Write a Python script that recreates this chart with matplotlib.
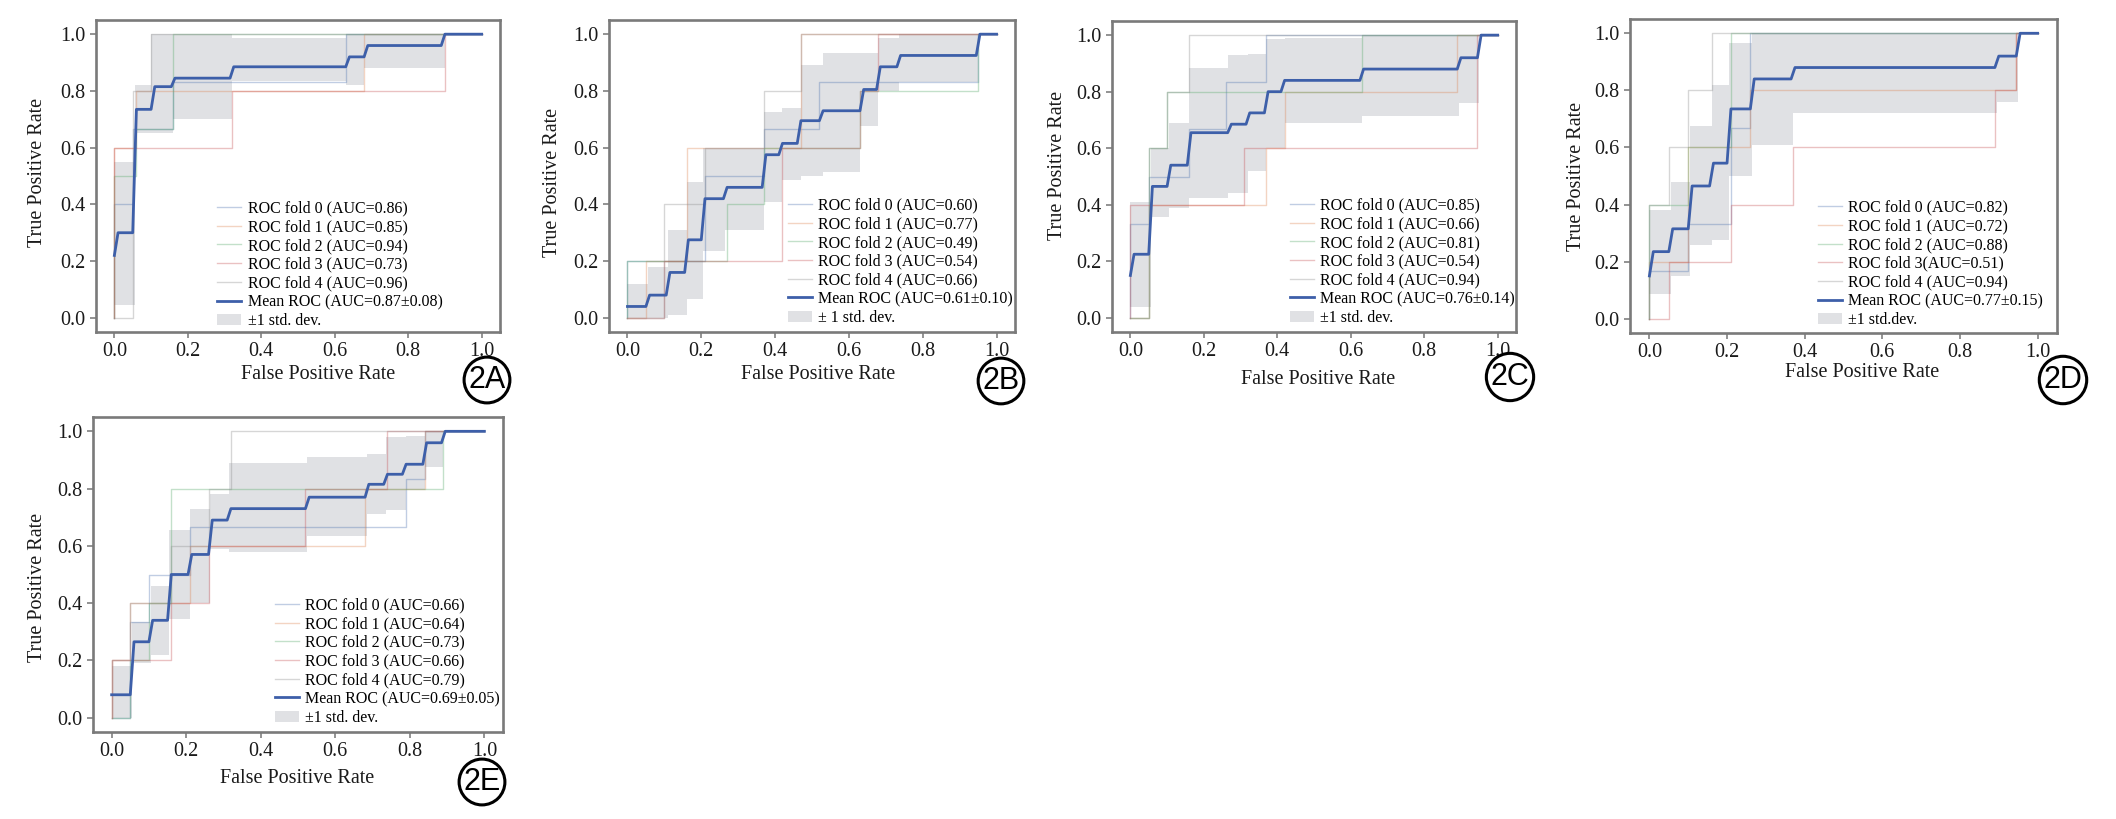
import numpy as np
import matplotlib.pyplot as plt
from matplotlib.patches import Patch

plt.rcParams['font.family'] = ['Liberation Serif', 'DejaVu Serif']

# ---------------- panel 2A ----------------
fpr_a = [[0, 0, 0.05, 0.05, 0.16, 0.16, 0.63, 0.63, 1],
         [0, 0, 0.06, 0.06, 0.68, 0.68, 1],
         [0, 0, 0.06, 0.06, 0.16, 0.16, 1],
         [0, 0, 0.32, 0.32, 0.9, 0.9, 1],
         [0, 0.05, 0.05, 0.1, 0.1, 1]]
tpr_a = [[0, 0.4, 0.4, 0.667, 0.667, 0.833, 0.833, 1, 1],
         [0, 0.6, 0.6, 0.8, 0.8, 1, 1],
         [0, 0.5, 0.5, 0.667, 0.667, 1, 1],
         [0, 0.6, 0.6, 0.8, 0.8, 1, 1],
         [0, 0, 0.8, 0.8, 1, 1]]
mean_x_a = [0, 0.01, 0.05, 0.06, 0.10, 0.11, 0.155, 0.165, 0.315, 0.325, 0.63, 0.64, 0.68, 0.69, 0.89, 0.90, 1.0]
mean_y_a = [0.22, 0.30, 0.30, 0.735, 0.735, 0.815, 0.815, 0.845, 0.845, 0.885, 0.885, 0.92, 0.92, 0.96, 0.96, 1.0, 1.0]
band_x_a = [0, 0.055, 0.10, 0.16, 0.32, 0.63, 0.68, 0.90, 1.0]
band_hi_a = [0.55, 0.82, 1.0, 1.0, 0.985, 1.0, 1.0, 1.0, 1.0]
band_lo_a = [0.045, 0.65, 0.65, 0.70, 0.835, 0.82, 0.88, 1.0, 1.0]
auc_a = ['0.86', '0.85', '0.94', '0.73', '0.96']
mean_lab_a = 'Mean ROC (AUC=0.87\u00b10.08)'
std_lab_a = '\u00b11 std. dev.'

# ---------------- panel 2B ----------------
fpr_b = [[0, 0, 0.21, 0.21, 0.37, 0.37, 0.52, 0.52, 0.95, 0.95, 1],
         [0, 0.05, 0.05, 0.16, 0.16, 0.47, 0.47, 1],
         [0, 0, 0.27, 0.27, 0.37, 0.37, 0.63, 0.63, 0.95, 0.95, 1],
         [0, 0.1, 0.1, 0.42, 0.42, 0.63, 0.63, 0.68, 0.68, 1],
         [0, 0.1, 0.1, 0.21, 0.21, 0.37, 0.37, 0.47, 0.47, 1]]
tpr_b = [[0, 0.2, 0.2, 0.5, 0.5, 0.667, 0.667, 0.833, 0.833, 1, 1],
         [0, 0, 0.2, 0.2, 0.6, 0.6, 1, 1],
         [0, 0.2, 0.2, 0.4, 0.4, 0.6, 0.6, 0.8, 0.8, 1, 1],
         [0, 0, 0.2, 0.2, 0.6, 0.6, 0.8, 0.8, 1, 1],
         [0, 0, 0.4, 0.4, 0.6, 0.6, 0.8, 0.8, 1, 1]]
mean_x_b = [0, 0.05, 0.06, 0.105, 0.115, 0.155, 0.165, 0.20, 0.21, 0.26, 0.27, 0.365, 0.375, 0.41,
            0.42, 0.46, 0.47, 0.52, 0.53, 0.63, 0.64, 0.675, 0.685, 0.73, 0.74, 0.945, 0.955, 1.0]
mean_y_b = [0.04, 0.04, 0.08, 0.08, 0.16, 0.16, 0.275, 0.275, 0.42, 0.42, 0.46, 0.46, 0.575, 0.575,
            0.615, 0.615, 0.695, 0.695, 0.73, 0.73, 0.805, 0.805, 0.885, 0.885, 0.925, 0.925, 1.0, 1.0]
band_x_b = [0, 0.055, 0.11, 0.16, 0.205, 0.265, 0.37, 0.42, 0.47, 0.53, 0.63, 0.68, 0.735, 0.95, 1.0]
band_hi_b = [0.12, 0.18, 0.31, 0.48, 0.60, 0.60, 0.725, 0.74, 0.89, 0.935, 0.935, 0.985, 1.0, 1.0, 1.0]
band_lo_b = [0.0, 0.0, 0.01, 0.065, 0.235, 0.31, 0.41, 0.485, 0.50, 0.515, 0.675, 0.80, 0.83, 1.0, 1.0]
auc_b = ['0.60', '0.77', '0.49', '0.54', '0.66']
mean_lab_b = 'Mean ROC (AUC=0.61\u00b10.10)'
std_lab_b = '\u00b1 1 std. dev.'

# ---------------- panel 2C ----------------
fpr_c = [[0, 0, 0.05, 0.05, 0.16, 0.16, 0.26, 0.26, 0.37, 0.37, 1],
         [0, 0.05, 0.05, 0.37, 0.37, 0.42, 0.42, 0.89, 0.89, 1],
         [0, 0.05, 0.05, 0.1, 0.1, 0.63, 0.63, 1],
         [0, 0, 0.31, 0.31, 0.945, 0.945, 1],
         [0, 0.05, 0.05, 0.1, 0.1, 0.16, 0.16, 1]]
tpr_c = [[0, 0.333, 0.333, 0.5, 0.5, 0.667, 0.667, 0.833, 0.833, 1, 1],
         [0, 0, 0.4, 0.4, 0.6, 0.6, 0.8, 0.8, 1, 1],
         [0, 0, 0.6, 0.6, 0.8, 0.8, 1, 1],
         [0, 0.4, 0.4, 0.6, 0.6, 1, 1],
         [0, 0, 0.6, 0.6, 0.8, 0.8, 1, 1]]
mean_x_c = [0, 0.01, 0.05, 0.06, 0.10, 0.11, 0.155, 0.165, 0.265, 0.275, 0.315, 0.325, 0.365, 0.375,
            0.41, 0.42, 0.625, 0.635, 0.89, 0.90, 0.945, 0.955, 1.0]
mean_y_c = [0.15, 0.225, 0.225, 0.465, 0.465, 0.54, 0.54, 0.655, 0.655, 0.685, 0.685, 0.725, 0.725, 0.80,
            0.80, 0.84, 0.84, 0.88, 0.88, 0.92, 0.92, 1.0, 1.0]
band_x_c = [0, 0.055, 0.105, 0.16, 0.265, 0.32, 0.37, 0.42, 0.63, 0.895, 0.95, 1.0]
band_hi_c = [0.41, 0.60, 0.69, 0.885, 0.93, 0.935, 0.985, 0.99, 1.0, 1.0, 1.0, 1.0]
band_lo_c = [0.04, 0.355, 0.39, 0.425, 0.44, 0.52, 0.60, 0.69, 0.715, 0.76, 1.0, 1.0]
auc_c = ['0.85', '0.66', '0.81', '0.54', '0.94']
mean_lab_c = 'Mean ROC (AUC=0.76\u00b10.14)'
std_lab_c = '\u00b11 std. dev.'

# ---------------- panel 2D ----------------
fpr_d = [[0, 0, 0.1, 0.1, 0.21, 0.21, 0.26, 0.26, 1],
         [0, 0, 0.1, 0.1, 0.26, 0.26, 0.945, 0.945, 1],
         [0, 0, 0.1, 0.1, 0.21, 0.21, 1],
         [0, 0.05, 0.05, 0.21, 0.21, 0.37, 0.37, 0.89, 0.89, 0.945, 0.945, 1],
         [0, 0, 0.05, 0.05, 0.1, 0.1, 0.16, 0.16, 1]]
tpr_d = [[0, 0.167, 0.167, 0.333, 0.333, 0.667, 0.667, 1, 1],
         [0, 0.2, 0.2, 0.6, 0.6, 0.8, 0.8, 1, 1],
         [0, 0.4, 0.4, 0.6, 0.6, 1, 1],
         [0, 0, 0.2, 0.2, 0.4, 0.4, 0.6, 0.6, 0.8, 0.8, 1, 1],
         [0, 0.4, 0.4, 0.6, 0.6, 0.8, 0.8, 1, 1]]
mean_x_d = [0, 0.01, 0.05, 0.06, 0.10, 0.11, 0.155, 0.165, 0.20, 0.21, 0.26, 0.27, 0.365, 0.375,
            0.89, 0.90, 0.945, 0.955, 1.0]
mean_y_d = [0.15, 0.235, 0.235, 0.315, 0.315, 0.465, 0.465, 0.545, 0.545, 0.735, 0.735, 0.84, 0.84, 0.88,
            0.88, 0.92, 0.92, 1.0, 1.0]
band_x_d = [0, 0.055, 0.105, 0.16, 0.205, 0.265, 0.37, 0.895, 0.95, 1.0]
band_hi_d = [0.38, 0.48, 0.675, 0.82, 0.965, 1.0, 1.0, 1.0, 1.0, 1.0]
band_lo_d = [0.085, 0.15, 0.26, 0.275, 0.50, 0.61, 0.72, 0.76, 1.0, 1.0]
auc_d = ['0.82', '0.72', '0.88', '0.51', '0.94']
mean_lab_d = 'Mean ROC (AUC=0.77\u00b10.15)'
std_lab_d = '\u00b11 std.dev.'

# ---------------- panel 2E ----------------
fpr_e = [[0, 0.05, 0.05, 0.1, 0.1, 0.21, 0.21, 0.79, 0.79, 0.84, 0.84, 1],
         [0, 0, 0.05, 0.05, 0.21, 0.21, 0.68, 0.68, 0.84, 0.84, 1],
         [0, 0.05, 0.05, 0.1, 0.1, 0.16, 0.16, 0.89, 0.89, 1],
         [0, 0, 0.16, 0.16, 0.26, 0.26, 0.52, 0.52, 0.74, 0.74, 1],
         [0, 0, 0.05, 0.05, 0.16, 0.16, 0.26, 0.26, 0.32, 0.32, 1]]
tpr_e = [[0, 0, 0.333, 0.333, 0.5, 0.5, 0.667, 0.667, 0.833, 0.833, 1, 1],
         [0, 0.2, 0.2, 0.4, 0.4, 0.6, 0.6, 0.8, 0.8, 1, 1],
         [0, 0, 0.2, 0.2, 0.4, 0.4, 0.8, 0.8, 1, 1],
         [0, 0.2, 0.2, 0.4, 0.4, 0.6, 0.6, 0.8, 0.8, 1, 1],
         [0, 0.2, 0.2, 0.4, 0.4, 0.6, 0.6, 0.8, 0.8, 1, 1]]
mean_x_e = [0, 0.05, 0.06, 0.10, 0.11, 0.15, 0.16, 0.205, 0.215, 0.26, 0.27, 0.31, 0.32, 0.52, 0.53,
            0.68, 0.69, 0.73, 0.74, 0.78, 0.79, 0.835, 0.845, 0.885, 0.895, 1.0]
mean_y_e = [0.08, 0.08, 0.265, 0.265, 0.34, 0.34, 0.50, 0.50, 0.57, 0.57, 0.69, 0.69, 0.73, 0.73, 0.77,
            0.77, 0.815, 0.815, 0.85, 0.85, 0.885, 0.885, 0.96, 0.96, 1.0, 1.0]
band_x_e = [0, 0.055, 0.105, 0.155, 0.21, 0.265, 0.315, 0.525, 0.685, 0.735, 0.79, 0.84, 0.89, 1.0]
band_hi_e = [0.18, 0.335, 0.46, 0.655, 0.73, 0.78, 0.89, 0.91, 0.92, 0.98, 0.985, 1.0, 1.0, 1.0]
band_lo_e = [0.0, 0.19, 0.22, 0.345, 0.40, 0.59, 0.58, 0.635, 0.71, 0.725, 0.795, 0.875, 1.0, 1.0]
auc_e = ['0.66', '0.64', '0.73', '0.66', '0.79']
mean_lab_e = 'Mean ROC (AUC=0.69\u00b10.05)'
std_lab_e = '\u00b11 std. dev.'

panel_tags = ['2A', '2B', '2C', '2D', '2E']
tick_vals = [0.0, 0.2, 0.4, 0.6, 0.8, 1.0]

fold_colors = ['#4C72B0', '#DD8452', '#55A868', '#C44E52', '#8c8c8c']
mean_color = '#3d5fa9'
serif = ['Liberation Serif', 'DejaVu Serif']
W, H = 2116, 819

# axes boxes in pixels: left, top, right, bottom
boxes = [(96, 20, 500, 332), (609, 20, 1015, 332), (1112, 21, 1516, 332),
         (1630, 19, 2057, 333), (93, 417, 503, 732)]
# legend anchor (axes fraction), xlabel / ylabel centres (pixels), tag centres (pixels)
leg_pos = [(0.30, 0.01), (0.44, 0.02), (0.44, 0.02), (0.44, 0.016), (0.444, 0.02)]
xlab_px = [(318, 365), (818, 365), (1318, 370), (1862, 363), (297, 769)]
ylab_px = [(47, 172), (562, 182), (1067, 165), (1586, 176), (47, 587)]
tag_px = [(487, 380), (1001, 381), (1510, 377), (2063, 380), (482, 782)]

fig = plt.figure(figsize=(W / 100, H / 100), dpi=100)

panels = [
    (fpr_a, tpr_a, mean_x_a, mean_y_a, band_x_a, band_lo_a, band_hi_a, auc_a, mean_lab_a, std_lab_a),
    (fpr_b, tpr_b, mean_x_b, mean_y_b, band_x_b, band_lo_b, band_hi_b, auc_b, mean_lab_b, std_lab_b),
    (fpr_c, tpr_c, mean_x_c, mean_y_c, band_x_c, band_lo_c, band_hi_c, auc_c, mean_lab_c, std_lab_c),
    (fpr_d, tpr_d, mean_x_d, mean_y_d, band_x_d, band_lo_d, band_hi_d, auc_d, mean_lab_d, std_lab_d),
    (fpr_e, tpr_e, mean_x_e, mean_y_e, band_x_e, band_lo_e, band_hi_e, auc_e, mean_lab_e, std_lab_e),
]

for i, (fx, fy, mx, my, bx, blo, bhi, aucs, mlab, slab) in enumerate(panels):
    l, t, r, b = boxes[i]
    ax = fig.add_axes([l / W, 1 - b / H, (r - l) / W, (b - t) / H])
    handles = []
    for k in range(5):
        if i == 3 and k == 3:
            lab = 'ROC fold %d(AUC=%s)' % (k, aucs[k])
        else:
            lab = 'ROC fold %d (AUC=%s)' % (k, aucs[k])
        h, = ax.plot(fx[k], fy[k], color=fold_colors[k], lw=1, alpha=0.35, label=lab)
        handles.append(h)
    h, = ax.plot(mx, my, color=mean_color, lw=2, label=mlab)
    handles.append(h)
    ax.fill_between(bx, blo, bhi, step='post', color='#9a9ea6', alpha=0.3, lw=0)
    handles.append(Patch(facecolor='#9a9ea6', alpha=0.3, label=slab))

    ax.set_xlim(-0.05, 1.05)
    ax.set_ylim(-0.05, 1.05)
    ax.set_xticks(tick_vals)
    ax.set_yticks(tick_vals)
    ax.set_xticklabels(['%.1f' % v for v in tick_vals], family=serif, fontsize=14.5)
    ax.set_yticklabels(['%.1f' % v for v in tick_vals], family=serif, fontsize=14.5)
    ax.tick_params(length=4, width=1.2, color='#808080', labelcolor='#1a1a1a')
    for s in ax.spines.values():
        s.set_color('#7a7a7a')
        s.set_linewidth(1.9)

    ax.set_xlabel('False Positive Rate', fontsize=14.5, color='#1a1a1a')
    ax.set_ylabel('True Positive Rate', fontsize=14.5, color='#1a1a1a')
    ax.xaxis.set_label_coords((xlab_px[i][0] - l) / (r - l), (b - xlab_px[i][1]) / (b - t))
    ax.yaxis.set_label_coords((ylab_px[i][0] - l) / (r - l), (b - ylab_px[i][1]) / (b - t))

    ax.legend(handles=handles, loc='lower left', bbox_to_anchor=leg_pos[i], frameon=False,
              prop={'family': serif, 'size': 11.5}, labelspacing=0.17, handlelength=1.5,
              handletextpad=0.4, borderpad=0, borderaxespad=0)

    fig.text(tag_px[i][0] / W, 1 - tag_px[i][1] / H, panel_tags[i], ha='center', va='center',
             fontsize=22, family='Liberation Sans',
             bbox=dict(boxstyle='circle,pad=0.14', fc='white', ec='black', lw=2.2))

fig.savefig('out.png', dpi=100, facecolor='white')
